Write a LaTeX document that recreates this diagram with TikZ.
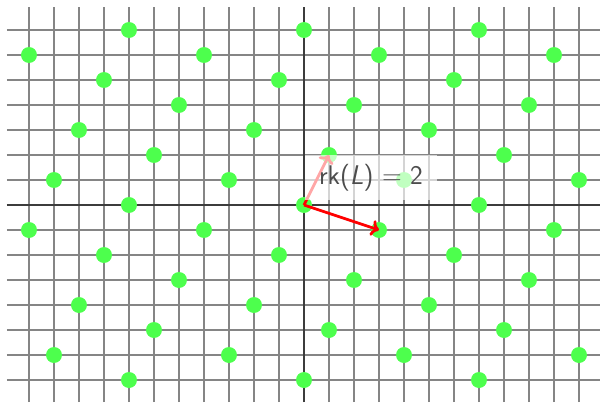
\documentclass[tikz,border=0pt]{standalone}
\usepackage{xcolor}
\usepackage{tikz}
\usetikzlibrary{positioning,arrows.meta}
\definecolor{gridcolor}{HTML}{858585}
\definecolor{axiscolor}{HTML}{3C3C3C}
\definecolor{ptcolor}{HTML}{4DFF4D}

\begin{document}
\begin{tikzpicture}[
    x=25pt, y=25pt,
    gridline/.style={draw=gridcolor, line width=1.1pt},
    axisline/.style={draw=axiscolor, line width=2.2pt},
    latpt/.style={circle, fill=ptcolor, minimum size=16pt, inner sep=0pt},
    basisvec/.style={draw=red, line width=2.8pt, ->},
    rkbox/.style={fill=white, fill opacity=0.65, text opacity=1, text=black!70,
      minimum width=132pt, minimum height=45pt, inner sep=0pt,
      font=\sffamily\fontsize{27}{31}\selectfont},
  ]
  \useasboundingbox (-12.16,-7.88) rectangle (11.84,8.2);
  % grid
  \foreach \x in {-11,...,11}
    \draw[gridline] (\x,-7.88) -- (\x,7.92);
  \foreach \y in {-7,...,7}
    \draw[gridline] (-11.88,\y) -- (11.84,\y);
  \draw[axisline] (-11.88,0) -- (11.84,0);
  \draw[axisline] (0,-7.88) -- (0,7.92);
  % lattice points
  \foreach \x in {-11,...,11}
    \foreach \y in {-7,...,7} {
      \pgfmathtruncatemacro\r{mod(2*\x-\y,7)}
      \ifnum\r=0
        \node[latpt] (p\x\y) at (\x,\y) {};
      \fi
    }
  \coordinate (o) at (0,0);
  \coordinate (b1) at (3,-1);
  \coordinate (b2) at (1,2);
  \draw[basisvec] (o) -- (b1);
  \draw[basisvec] (o) -- (b2);
  \node[rkbox] (rk) at (2.68,1.1) {rk(\textit{L}) = 2};
\end{tikzpicture}
\end{document}
